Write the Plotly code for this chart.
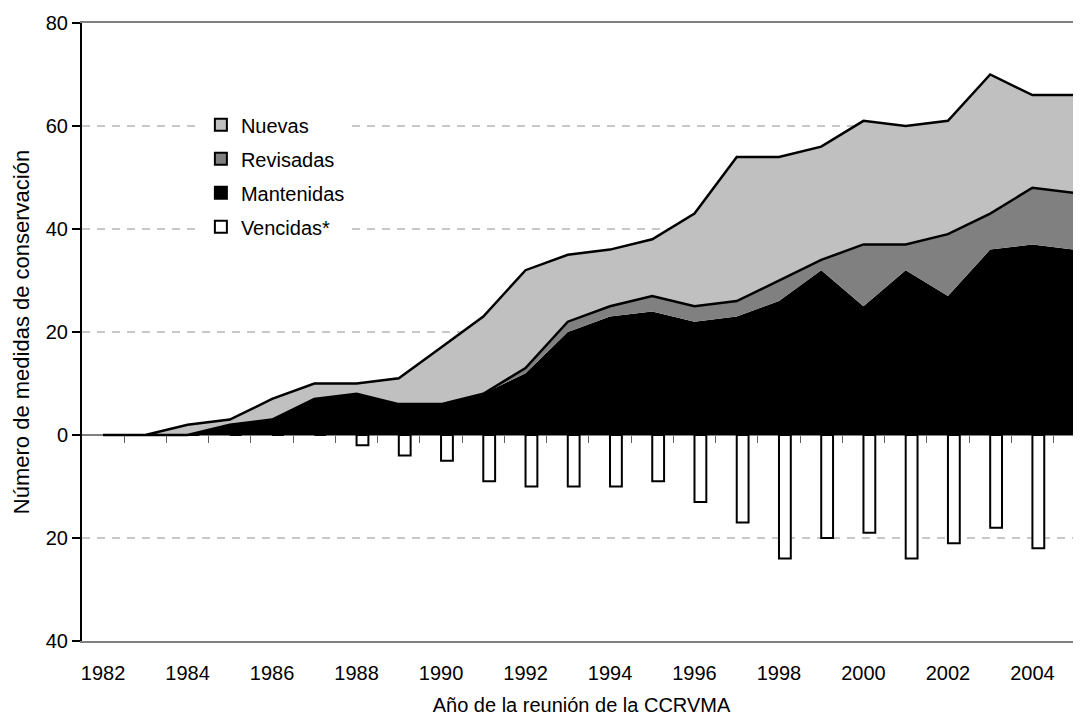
import numpy as np
import plotly.graph_objects as go

# ---- data ----
years = list(range(1982, 2006))
mantenidas = [0, 0, 0, 2, 3, 7, 8, 6, 6, 8, 12, 20, 23, 24, 22, 23, 26, 32, 25, 32, 27, 36, 37, 36]
revisadas = [0, 0, 0, 0, 0, 0, 0, 0, 0, 0, 1, 2, 2, 3, 3, 3, 4, 2, 12, 5, 12, 7, 11, 11]
nuevas = [0, 0, 2, 1, 4, 3, 2, 5, 11, 15, 19, 13, 11, 11, 18, 28, 24, 22, 24, 23, 22, 27, 18, 19]
vencidas = [0, 0, 0, 0, 0, 0, 2, 4, 5, 9, 10, 10, 10, 9, 13, 17, 24, 20, 19, 24, 21, 18, 22, 19]

y_tickvals = [-40, -20, 0, 20, 40, 60, 80]
y_ticktext = ["40", "20", "0", "20", "40", "60", "80"]
x_tickvals = list(range(1982, 2006, 2))

FONT = "Liberation Sans"
C_NUE, C_REV, C_MAN = "#C0C0C0", "#808080", "#000000"

rev_top = np.array(mantenidas) + np.array(revisadas)
total = rev_top + np.array(nuevas)

fig = go.Figure()

# stacked areas (no borders)
for name, vals, col in [("Mantenidas", mantenidas, C_MAN),
                        ("Revisadas", revisadas, C_REV),
                        ("Nuevas", nuevas, C_NUE)]:
    fig.add_trace(go.Scatter(x=years, y=vals, stackgroup="a", mode="lines",
                             line=dict(width=0, color=col), fillcolor=col,
                             showlegend=False, hoverinfo="skip"))

# outline of the "Nuevas" band
fig.add_trace(go.Scatter(x=years + years[::-1],
                         y=list(total) + list(rev_top[::-1]),
                         mode="lines", line=dict(color="black", width=2.5),
                         showlegend=False, hoverinfo="skip"))

# legend entries
for i, (name, col) in enumerate([("Nuevas", C_NUE), ("Revisadas", C_REV), ("Mantenidas", C_MAN)]):
    fig.add_trace(go.Bar(x=[None], y=[None], name=name,
                         marker=dict(color=col, line=dict(color="black", width=2)),
                         legendgroup=name, legendrank=i + 1))

# expired measures as negative bars
fig.add_trace(go.Bar(x=years, y=[-v for v in vencidas], name="Vencidas*",
                     width=0.28, offset=0,
                     marker=dict(color="white", line=dict(color="black", width=2)),
                     legendgroup="Vencidas", legendrank=4))

fig.update_layout(
    width=1073, height=714,
    margin=dict(l=74, r=0, t=15, b=81),
    paper_bgcolor="white", plot_bgcolor="white",
    font=dict(family=FONT, size=20, color="black"),
    barmode="overlay",
    legend=dict(x=0.119, y=0.867, xanchor="left", yanchor="top",
                bgcolor="white", borderwidth=0, font=dict(family=FONT, size=20),
                tracegroupgap=5, itemclick=False),
    xaxis=dict(range=[1981.5, 2005.15], tickvals=x_tickvals, ticks="",
               tickfont=dict(family=FONT, size=20), ticklabelstandoff=13,
               showline=True, linecolor="#808080", linewidth=2, mirror=True,
               showgrid=False, zeroline=False,
               title=dict(text="Año de la reunión de la CCRVMA", standoff=15,
                          font=dict(family=FONT, size=20))),
    xaxis2=dict(range=[1981.5, 2005.15], overlaying="x", anchor="free", position=1/3,
                side="bottom", tickvals=[y + 0.5 for y in years[:-1]],
                ticks="outside", ticklen=7, tickcolor="#606060", tickwidth=1,
                showline=False, showgrid=False, zeroline=False, showticklabels=False),
    yaxis=dict(range=[-40, 80], tickvals=y_tickvals, ticktext=y_ticktext,
               tickfont=dict(family=FONT, size=20),
               ticks="outside", ticklen=8, tickcolor="black", tickwidth=1.5,
               showline=True, linecolor="black", linewidth=2, mirror=False,
               showgrid=True, gridcolor="#C8C8C8", gridwidth=1.5, griddash="8px,7px",
               zeroline=True, zerolinecolor="#808080", zerolinewidth=1.5,
               title=dict(text="Número de medidas de conservación", standoff=10,
                          font=dict(family=FONT, size=22))),
)
# bind an invisible trace to xaxis2 so its ticks render
fig.add_trace(go.Scatter(x=[1982], y=[0], xaxis="x2", mode="markers",
                         marker=dict(opacity=0), showlegend=False, hoverinfo="skip"))

fig.write_html("out.html")
